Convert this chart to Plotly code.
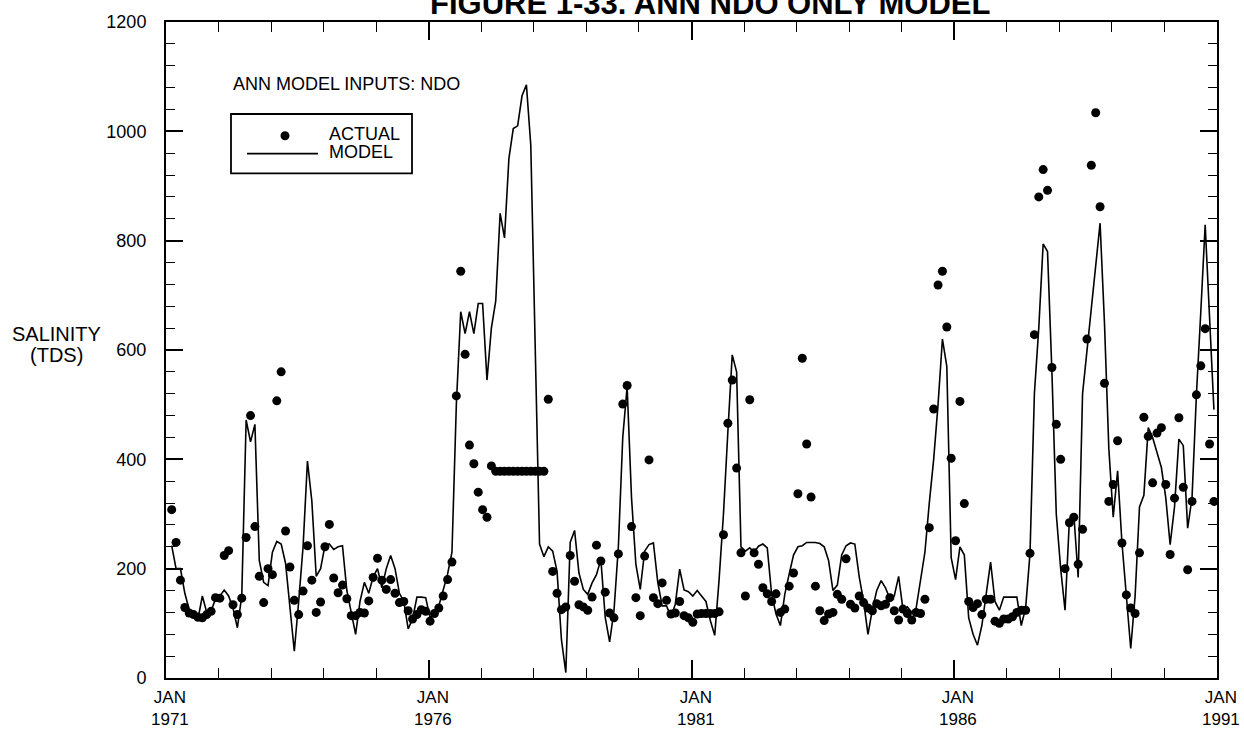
import plotly.graph_objects as go

# ---------------- data (monthly, starting Feb 1971) ----------------
actual = [
    308, 248, 179, 129, 119, 116, 111, 110, 116, 122, 147, 146,
    224, 233, 134, 116, 146, 257, 480, 277, 186, 138, 200, 189,
    507, 560, 269, 203, 142, 116, 159, 242, 179, 120, 139, 240,
    281, 183, 156, 170, 145, 114, 114, 120, 119, 141, 184, 219,
    179, 162, 180, 155, 138, 140, 123, 108, 116, 125, 122, 104,
    118, 128, 150, 180, 212, 516, 744, 592, 426, 392, 340, 308,
    294, 388, 378, 378, 378, 378, 378, 378, 378, 378, 378, 378,
    378, 378, 510, 195, 155, 125, 130, 224, 177, 134, 130, 124,
    148, 243, 214, 157, 119, 110, 227, 501, 535, 277, 147, 114,
    223, 399, 147, 136, 174, 142, 117, 119, 140, 114, 110, 102,
    117, 118, 118, 118, 118, 121, 262, 466, 545, 384, 229, 150,
    509, 229, 208, 165, 154, 140, 154, 120, 126, 168, 192, 337,
    585, 428, 331, 168, 123, 105, 117, 120, 153, 144, 218, 135,
    128, 150, 138, 128, 123, 136, 132, 135, 147, 123, 106, 126,
    118, 106, 120, 118, 144, 275, 492, 719, 744, 642, 402, 251,
    506, 319, 140, 129, 136, 116, 144, 144, 104, 100, 108, 108,
    112, 120, 124, 124, 228, 628, 880, 930, 892, 568, 464, 400,
    200, 284, 294, 208, 272, 620, 938, 1034, 862, 539, 323, 354,
    434, 247, 152, 128, 118, 229, 477, 442, 357, 448, 458, 354,
    226, 329, 476, 349, 198, 323, 518, 571, 639, 428, 323,
]

model = [
    242, 200, 200, 155, 125, 112, 108, 150, 120, 122, 145, 150,
    161, 150, 128, 92, 150, 472, 432, 464, 215, 175, 169, 230,
    250, 245, 210, 130, 49, 140, 240, 397, 324, 186, 200, 242,
    245, 235, 240, 242, 160, 120, 80, 140, 175, 155, 185, 200,
    165, 200, 224, 200, 155, 140, 90, 108, 148, 148, 147, 110,
    118, 132, 160, 190, 230, 500, 670, 630, 670, 630, 685, 685,
    545, 640, 690, 850, 805, 950, 1005, 1010, 1065, 1085, 975, 610,
    245, 222, 240, 232, 195, 70, 10, 248, 270, 192, 162, 153,
    174, 189, 217, 111, 66, 123, 240, 440, 533, 330, 208, 162,
    232, 244, 247, 175, 132, 132, 112, 135, 199, 161, 158, 150,
    160, 150, 140, 105, 78, 180, 300, 450, 591, 560, 240, 232,
    238, 230, 241, 245, 238, 153, 117, 96, 153, 190, 225, 240,
    242, 248, 248, 248, 246, 240, 215, 160, 170, 225, 242, 247,
    245, 185, 140, 80, 125, 160, 178, 165, 145, 150, 186, 125,
    130, 120, 128, 175, 230, 320, 400, 500, 620, 570, 220, 180,
    240, 225, 110, 80, 60, 96, 152, 212, 140, 124, 148, 148,
    148, 148, 96, 128, 228, 520, 640, 794, 780, 560, 300, 200,
    124, 290, 300, 184, 520, 600, 680, 760, 832, 650, 420, 294,
    379, 247, 156, 54, 150, 313, 334, 458, 440, 410, 385, 330,
    244, 313, 437, 425, 274, 330, 518, 670, 829, 660, 491,
]

# months since Jan 1971 for each sample
months = [i + 1.3 for i in range(len(actual))]

tick_months = [0, 60, 120, 180, 240]
tick_years = ["1971", "1976", "1981", "1986", "1991"]
tick_month_label = "JAN"

title_text = "FIGURE 1-33. ANN NDO ONLY MODEL"
note_text = "ANN MODEL INPUTS: NDO"
series_names = ["ACTUAL", "MODEL"]

FONT = "Liberation Sans, Arial, Helvetica, sans-serif"

# plot area in page pixels
L, R, T, B = 166, 1217, 15, 678
PW, PH = R - L, B - T


def px(x):
    return (x - L) / PW


def py(y):
    return (B - y) / PH


fig = go.Figure()
fig.add_trace(go.Scatter(
    x=months, y=model, mode="lines", name=series_names[1],
    line=dict(color="black", width=1.6), showlegend=False))
fig.add_trace(go.Scatter(
    x=months, y=actual, mode="markers", name=series_names[0],
    marker=dict(color="black", size=9), showlegend=False))

fig.update_layout(
    width=1244, height=731,
    margin=dict(l=L, r=1244 - R, t=T, b=731 - B),
    paper_bgcolor="white", plot_bgcolor="white",
    font=dict(family=FONT, color="black", size=18),
    showlegend=False,
)

fig.update_xaxes(
    range=[0, 240], showgrid=False, zeroline=False,
    showline=True, linecolor="black", linewidth=2, mirror="ticks",
    ticks="inside", ticklen=18, tickwidth=1.5, tickcolor="black",
    tickvals=tick_months, showticklabels=False,
    minor=dict(dtick=12, tick0=0, ticks="inside", ticklen=10,
               tickwidth=1.2, tickcolor="black", showgrid=False),
)
fig.update_yaxes(
    range=[0, 1200], showgrid=False, zeroline=False,
    showline=True, linecolor="black", linewidth=2, mirror="ticks",
    ticks="inside", ticklen=17, tickwidth=1.5, tickcolor="black",
    tick0=0, dtick=200, tickfont=dict(size=18, family=FONT),
    ticklabelstandoff=14,
    minor=dict(dtick=40, tick0=0, ticks="inside", ticklen=9,
               tickwidth=1.2, tickcolor="black", showgrid=False),
)

ann = []
for xm, yr in zip(tick_months, tick_years):
    ann.append(dict(x=xm, y=0, xref="x", yref="paper",
                    text=tick_month_label + "<br>" + yr,
                    showarrow=False, xanchor="center", yanchor="top",
                    xshift=4, yshift=-8, font=dict(size=17)))

# title (partly above the page edge, as in the scan)
ann.append(dict(x=px(710), y=1, xref="paper", yref="paper",
                text="<b>" + title_text + "</b>", showarrow=False,
                xanchor="center", yanchor="middle", yshift=19,
                font=dict(size=31)))
# y axis title
ann.append(dict(x=px(56), y=py(330), xref="paper", yref="paper",
                text="SALINITY", showarrow=False, xanchor="center", yanchor="middle",
                font=dict(size=20)))
ann.append(dict(x=px(56), y=py(352), xref="paper", yref="paper",
                text="(TDS)", showarrow=False, xanchor="center", yanchor="middle",
                font=dict(size=20)))
# note
ann.append(dict(x=px(231), y=py(78), xref="paper", yref="paper",
                text=note_text, showarrow=False, xanchor="left", yanchor="middle",
                font=dict(size=18)))
# legend texts
ann.append(dict(x=px(327), y=py(128), xref="paper", yref="paper",
                text=series_names[0], showarrow=False, xanchor="left", yanchor="middle",
                font=dict(size=18)))
ann.append(dict(x=px(327), y=py(146), xref="paper", yref="paper",
                text=series_names[1], showarrow=False, xanchor="left", yanchor="middle",
                font=dict(size=18)))
fig.update_layout(annotations=ann)

shapes = [
    # legend box
    dict(type="rect", xref="paper", yref="paper",
         x0=px(231), x1=px(412), y0=py(168), y1=py(108),
         line=dict(color="black", width=1.8), fillcolor="white", layer="below"),
    # legend line sample
    dict(type="line", xref="paper", yref="paper",
         x0=px(247), x1=px(318), y0=py(148), y1=py(148),
         line=dict(color="black", width=1.6)),
    # legend marker sample
    dict(type="circle", xref="paper", yref="paper",
         xsizemode="pixel", ysizemode="pixel",
         xanchor=px(285), yanchor=py(130),
         x0=-4.5, x1=4.5, y0=-4.5, y1=4.5,
         line=dict(color="black", width=0), fillcolor="black"),
]
fig.update_layout(shapes=shapes)

# remove the default page margin so the figure sits at the window's corner
fig.write_html("out.html",
               config={"displayModeBar": False},
               post_script="document.body.style.margin='0';document.body.style.overflow='hidden';")
